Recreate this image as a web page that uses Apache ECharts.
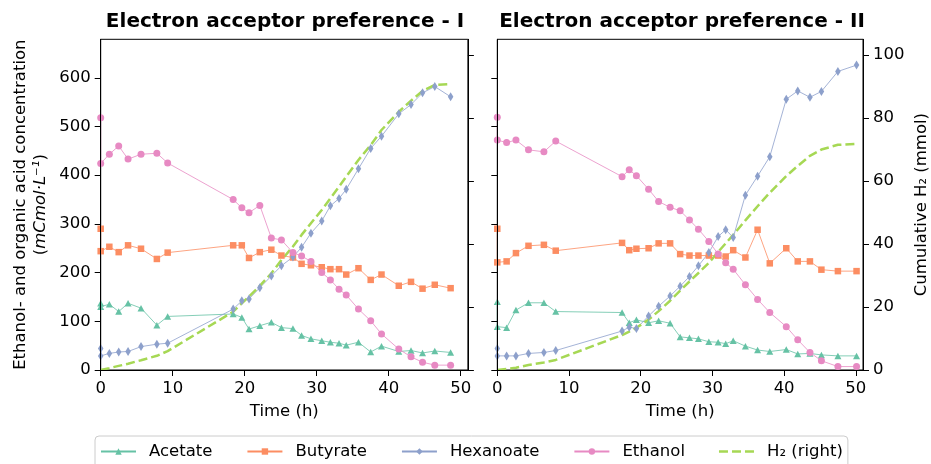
<!doctype html>
<html lang="en">
<head>
<meta charset="UTF-8">
<title>Electron acceptor preference</title>
<script src="https://cdn.jsdelivr.net/npm/echarts@6/dist/echarts.min.js"></script>
<style>
    html, body {margin: 0; padding: 0; background: #fff;}
    #main {width: 931px; height: 464px;}
</style>
</head>
<body>
<div id="main"></div>
<script>
    // panel I
    var timeI = [0, 0, 1.2, 2.5, 3.8, 5.6, 7.8, 9.3, 18.4, 19.6, 20.6, 22.1, 23.7, 25.1, 26.7, 27.9, 29.2, 30.7, 31.9, 33.1, 34.1, 35.8, 37.5, 39.0, 41.4, 43.1, 44.7, 46.4, 48.6];
    var acetateI = [137, 130, 135, 120, 137, 127, 92, 110, 115, 108, 84, 91, 98, 87, 85, 71, 64, 60, 57, 55, 51, 57, 37, 49, 38, 40, 35, 39, 36];
    var butyrateI = [290, 244, 253, 242, 256, 249, 228, 241, 256, 256, 230, 242, 247, 235, 231, 218, 215, 211, 207, 207, 196, 209, 185, 196, 173, 181, 167, 175, 168];
    var hexanoateI = [44, 29, 34, 37, 38, 48, 53, 55, 125, 142, 146, 169, 193, 214, 232, 252, 281, 306, 337, 352, 371, 413, 455, 480, 526, 545, 569, 582, 561];
    var ethanolI = [518, 424, 443, 460, 433, 443, 445, 425, 350, 333, 323, 338, 271, 267, 241, 234, 223, 200, 185, 166, 154, 125, 101, 74, 43, 27, 16, 10, 10];
    var h2I = [0, 0, 0.6, 1.3, 2.0, 3.1, 4.5, 6.0, 18.5, 21.2, 23.3, 26.7, 30.7, 34.9, 39.2, 42.9, 46.6, 50.8, 54.5, 58.2, 61.4, 66.7, 71.4, 76.2, 82.0, 85.5, 88.6, 90.5, 90.8];

    // panel II
    var timeII = [0, 0, 1.3, 2.6, 4.35, 6.5, 8.15, 17.4, 18.4, 19.4, 21.1, 22.5, 24.1, 25.5, 26.8, 28.05, 29.5, 30.8, 31.85, 32.9, 34.6, 36.3, 38.0, 40.3, 41.9, 43.6, 45.2, 47.5, 50.1];
    var acetateII = [140, 89, 87, 123, 138, 138, 120, 118, 97, 103, 97, 101, 96, 68, 66, 64, 58, 57, 54, 60, 49, 41, 38, 42, 33, 34, 31, 29, 29];
    var butyrateII = [290, 221, 223, 240, 255, 257, 245, 261, 246, 249, 250, 260, 260, 238, 235, 235, 235, 235, 233, 246, 231, 288, 219, 250, 223, 223, 206, 203, 203];
    var hexanoateII = [44, 29, 29, 29, 34, 36, 40, 80, 88, 85, 111, 131, 152, 172, 192, 214, 241, 274, 288, 272, 359, 398, 438, 556, 573, 560, 572, 613, 626];
    var ethanolII = [519, 472, 467, 472, 452, 448, 470, 397, 411, 399, 371, 346, 334, 327, 308, 289, 264, 238, 220, 207, 175, 145, 118, 89, 62, 36, 19, 7, 7];
    var h2II = [0, 0, 0.3, 0.7, 1.6, 2.4, 3.2, 11.1, 12.2, 13.4, 16.0, 18.7, 22.0, 25.2, 28.1, 30.8, 34.0, 37.5, 40.2, 42.9, 47.5, 52.0, 56.3, 61.6, 64.8, 68.0, 70.0, 71.5, 71.8];

    var xTicks = [0, 10, 20, 30, 40, 50];
    var concTicks = [0, 100, 200, 300, 400, 500, 600];
    var h2Ticks = [0, 20, 40, 60, 80, 100];

    var font = 'DejaVu Sans';
    var txt = {color: '#000', fontSize: 16.5, fontFamily: font};

    function pairs(t, v) {
        return t.map(function (x, i) { return [x, v[i]]; });
    }

    function conc(name, t, v, color, symbol, size, xi, yi) {
        return {
            name: name, type: 'line', xAxisIndex: xi, yAxisIndex: yi, z: 2,
            data: pairs(t, v),
            symbol: symbol, symbolSize: size, showAllSymbol: true,
            lineStyle: {color: color, width: 0.8},
            itemStyle: {color: color},
            emphasis: {disabled: true}
        };
    }

    function h2(t, v, xi, yi) {
        return {
            name: 'H₂ (right)', type: 'line', xAxisIndex: xi, yAxisIndex: yi, z: 2,
            data: pairs(t, v), symbol: 'none',
            lineStyle: {color: '#a6d854', width: 2.5, type: [9, 4]},
            itemStyle: {color: '#a6d854'},
            emphasis: {disabled: true}
        };
    }

    function xAx(i) {
        return {
            gridIndex: i, type: 'value', min: 0, max: 51, z: 5,
            axisLine: {show: true, onZero: false, lineStyle: {color: '#000', width: 1}},
            axisTick: {length: 6, lineStyle: {color: '#000', width: 1}, customValues: xTicks},
            axisLabel: Object.assign({margin: 10, customValues: xTicks}, txt),
            splitLine: {show: false},
            name: 'Time (h)', nameLocation: 'middle', nameGap: 33, nameTextStyle: txt
        };
    }

    function yAx(i, pos, max, ticks, labels) {
        return {
            gridIndex: i, type: 'value', position: pos, min: 0, max: max, z: 5,
            axisLine: {show: true, onZero: false, lineStyle: {color: '#000', width: 1}},
            axisTick: {show: true, length: 6, lineStyle: {color: '#000', width: 1}, customValues: ticks},
            axisLabel: Object.assign({show: labels, margin: 10, customValues: ticks}, txt),
            splitLine: {show: false}
        };
    }

    var yConcI = yAx(0, 'left', 679, concTicks, true);
    yConcI.name = 'Ethanol- and organic acid concentration\n({i|mCmol·L⁻¹})';
    yConcI.nameLocation = 'middle';
    yConcI.nameRotate = 90;
    yConcI.nameGap = 50;
    yConcI.nameTextStyle = Object.assign({lineHeight: 20, rich: {i: {fontStyle: 'italic', fontSize: 16.5, fontFamily: font, color: '#000', lineHeight: 20}}}, txt);

    var yH2II = yAx(1, 'right', 105, h2Ticks, true);
    yH2II.name = 'Cumulative H₂ (mmol)';
    yH2II.nameLocation = 'middle';
    yH2II.nameRotate = 90;
    yH2II.nameGap = 50;
    yH2II.nameTextStyle = txt;

    // dashed legend handle for the H2 line (no marker)
    var dashIcon = 'path://M0,0L0.01,0Z M0,2.75h9v2.5h-9Z M13,2.75h9v2.5h-9Z M26,2.75h9v2.5h-9Z M35,8L34.99,8Z';

    var myChart = echarts.init(document.getElementById('main'));
    var option = {
        animation: false,
        backgroundColor: '#fff',
        title: [
            {text: 'Electron acceptor preference - I', left: 280, top: 7, textAlign: 'center',
                textStyle: {fontFamily: font, fontWeight: 'bold', fontSize: 20, color: '#000'}},
            {text: 'Electron acceptor preference - II', left: 677, top: 7, textAlign: 'center',
                textStyle: {fontFamily: font, fontWeight: 'bold', fontSize: 20, color: '#000'}}
        ],
        grid: [
            {left: 100.7, top: 39.3, width: 367.2, height: 330.7, show: true, borderColor: '#000', borderWidth: 1},
            {left: 497.3, top: 39.3, width: 367.2, height: 330.7, show: true, borderColor: '#000', borderWidth: 1}
        ],
        legend: {
            left: 95, top: 436,
            data: ['Acetate', 'Butyrate', 'Hexanoate', 'Ethanol', {name: 'H₂ (right)', icon: dashIcon}],
            itemWidth: 35, itemHeight: 8, itemGap: 34,
            padding: [7, 5, 8, 5],
            borderColor: '#ccc', borderWidth: 1, borderRadius: 4,
            backgroundColor: '#fff',
            textStyle: Object.assign({padding: [0, 0, 0, 8]}, txt)
        },
        xAxis: [xAx(0), xAx(1)],
        yAxis: [
            yConcI,
            yAx(0, 'right', 105, h2Ticks, false),
            yAx(1, 'left', 679, concTicks, false),
            yH2II
        ],
        series: [
            conc('Acetate', timeI, acetateI, '#66c2a5', 'triangle', [7, 6.5], 0, 0),
            conc('Butyrate', timeI, butyrateI, '#fc8d62', 'rect', 6.5, 0, 0),
            conc('Hexanoate', timeI, hexanoateI, '#8da0cb', 'diamond', [5.5, 9], 0, 0),
            conc('Ethanol', timeI, ethanolI, '#e78ac3', 'circle', 7, 0, 0),
            h2(timeI, h2I, 0, 1),
            conc('Acetate', timeII, acetateII, '#66c2a5', 'triangle', [7, 6.5], 1, 2),
            conc('Butyrate', timeII, butyrateII, '#fc8d62', 'rect', 6.5, 1, 2),
            conc('Hexanoate', timeII, hexanoateII, '#8da0cb', 'diamond', [5.5, 9], 1, 2),
            conc('Ethanol', timeII, ethanolII, '#e78ac3', 'circle', 7, 1, 2),
            h2(timeII, h2II, 1, 3)
        ]
    };
    myChart.setOption(option);
</script>
</body>
</html>
